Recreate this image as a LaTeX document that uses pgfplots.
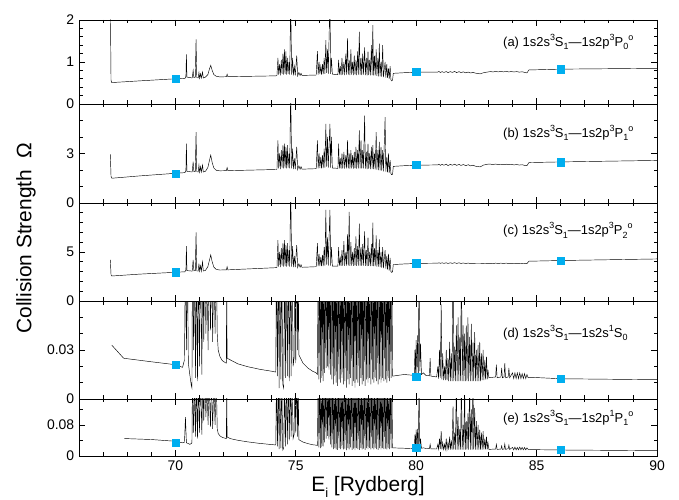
\documentclass[border=0pt]{standalone}
\usepackage{fontspec}
\setmainfont{Liberation Sans}
\usepackage{pgfplots}
\usepackage{pgfplotstable}
\pgfplotsset{compat=1.18}
\definecolor{datacyan}{HTML}{00AEEF}

% panels (a)-(c): same resonance positions, one column per transition
\pgfplotstableread{
x a b c
67.30 2.50 2.95 4.20
67.33 0.56 1.62 2.68
67.36 0.51 1.50 2.55
68.50 0.55 1.64 2.74
70.00 0.60 1.80 2.93
70.40 0.61 1.84 2.98
70.44 0.66 1.98 3.20
70.46 1.18 3.60 5.60
70.48 0.64 1.92 3.10
70.70 0.62 1.88 3.05
70.74 0.80 2.50 4.20
70.77 0.63 1.90 3.08
70.83 0.64 1.92 3.10
70.86 1.54 4.30 7.00
70.89 0.63 1.90 3.08
70.95 0.62 1.88 3.05
70.98 0.75 2.30 3.80
71.01 0.61 1.86 3.04
71.05 0.72 2.20 3.60
71.08 0.62 1.88 3.05
71.13 0.76 2.30 4.00
71.16 0.62 1.88 3.06
71.25 0.64 1.92 3.12
71.35 0.70 2.15 3.50
71.42 0.84 2.60 4.20
71.47 0.92 2.90 4.70
71.53 0.80 2.45 4.00
71.60 0.70 2.12 3.45
71.70 0.66 1.98 3.22
71.85 0.645 1.95 3.16
72.12 0.65 1.96 3.18
72.15 0.71 2.15 3.50
72.18 0.65 1.96 3.18
74.18 0.67 2.03 3.40
74.22 0.68 2.05 3.42
74.26 1.10 3.80 6.20
74.29 0.70 2.10 3.50
74.33 0.95 3.00 5.00
74.36 0.68 2.05 3.45
74.40 1.05 3.20 5.40
74.43 0.72 2.15 3.60
74.47 1.20 3.50 5.90
74.50 0.70 2.10 3.50
74.53 1.30 3.60 6.20
74.56 0.72 2.15 3.55
74.59 1.25 3.40 5.70
74.62 0.70 2.10 3.50
74.65 1.10 3.50 5.90
74.68 0.72 2.15 3.60
74.72 1.00 3.00 5.20
74.75 0.70 2.10 3.50
74.79 2.50 7.00 12.0
74.83 0.70 2.10 3.50
74.87 1.10 3.30 5.60
74.90 0.68 2.05 3.45
74.94 0.90 2.70 4.60
74.98 0.68 2.05 3.45
75.04 1.15 3.40 5.70
75.08 0.67 2.03 3.42
75.13 0.75 2.25 3.80
75.18 0.68 2.05 3.44
75.22 0.73 2.20 3.70
75.26 0.68 2.05 3.44
75.85 0.69 2.08 3.50
75.90 1.26 3.80 5.90
75.93 0.70 2.10 3.55
75.97 1.00 3.00 4.80
76.00 0.71 2.12 3.55
76.04 0.90 2.80 4.50
76.07 0.70 2.10 3.55
76.11 0.95 2.90 4.70
76.14 0.71 2.12 3.56
76.18 1.10 3.30 5.50
76.21 0.72 2.15 3.60
76.25 1.52 4.80 9.30
76.28 0.74 2.20 3.70
76.32 1.30 4.00 6.50
76.35 0.72 2.15 3.60
76.42 2.50 4.80 9.30
76.45 0.72 2.15 3.60
76.48 1.10 4.00 5.50
76.52 0.71 2.12 3.56
76.75 0.70 2.10 3.56
76.78 1.05 3.60 5.50
76.81 0.70 2.10 3.60
76.85 0.90 2.70 4.40
76.88 0.69 2.08 3.58
76.92 1.10 3.00 5.20
76.95 0.70 2.10 3.60
77.00 1.00 3.10 6.10
77.03 0.69 2.08 3.58
77.08 1.20 2.90 5.00
77.11 0.70 2.10 3.60
77.15 1.56 3.80 6.80
77.18 0.70 2.10 3.60
77.22 1.05 3.00 9.10
77.25 0.69 2.08 3.58
77.29 1.30 3.20 6.00
77.32 0.70 2.10 3.60
77.36 1.00 2.90 5.00
77.39 0.69 2.08 3.58
77.43 1.15 3.10 5.40
77.46 0.70 2.10 3.60
77.50 1.05 3.40 6.60
77.53 0.69 2.08 3.58
77.57 1.25 3.20 5.60
77.60 0.70 2.10 3.60
77.64 1.72 4.40 7.90
77.67 0.70 2.10 3.60
77.71 1.10 3.80 5.50
77.74 0.69 2.08 3.58
77.78 1.20 3.20 5.80
77.81 0.70 2.10 3.60
77.86 1.35 5.30 7.10
77.89 0.69 2.08 3.58
77.93 1.10 3.10 5.20
77.96 0.68 2.06 3.56
78.00 1.25 3.60 6.50
78.03 0.69 2.08 3.58
78.07 1.05 3.00 5.00
78.10 0.68 2.06 3.56
78.14 1.40 3.40 5.80
78.17 0.69 2.08 3.58
78.20 1.88 3.50 8.00
78.23 0.68 2.06 3.56
78.27 1.15 3.00 5.40
78.30 0.68 2.04 3.55
78.34 1.30 4.30 6.70
78.37 0.67 2.02 3.52
78.41 1.10 3.20 5.20
78.44 0.66 2.00 3.50
78.47 1.44 3.70 6.30
78.50 0.66 1.98 3.45
78.54 1.00 3.40 5.00
78.57 0.65 1.96 3.40
78.61 1.40 3.20 5.50
78.64 0.64 1.92 3.35
78.71 1.00 5.20 5.20
78.74 0.63 1.90 3.30
78.78 0.95 2.80 4.60
78.81 0.62 1.86 3.20
78.85 0.85 3.00 4.80
78.88 0.60 1.82 3.10
78.92 0.90 2.60 4.40
78.95 0.58 1.78 3.00
78.98 0.55 1.72 2.92
79.02 0.57 1.74 2.98
79.05 0.73 2.22 3.72
79.50 0.745 2.26 3.78
80.00 0.755 2.29 3.83
80.50 0.76 2.30 3.85
80.90 0.76 2.31 3.86
80.95 0.775 2.35 3.90
81.00 0.75 2.28 3.84
81.08 0.77 2.34 3.90
81.15 0.752 2.29 3.84
81.25 0.772 2.35 3.90
81.32 0.748 2.27 3.83
81.42 0.77 2.34 3.90
81.50 0.752 2.29 3.84
81.60 0.775 2.35 3.91
81.68 0.748 2.28 3.83
81.78 0.77 2.34 3.90
81.86 0.748 2.28 3.83
81.96 0.765 2.33 3.88
82.06 0.742 2.26 3.82
82.16 0.76 2.32 3.87
82.26 0.738 2.25 3.81
82.36 0.752 2.29 3.85
82.46 0.735 2.23 3.80
82.56 0.725 2.21 3.80
82.66 0.718 2.19 3.80
82.80 0.745 2.30 3.82
83.00 0.765 2.36 3.84
83.10 0.772 2.35 3.85
83.18 0.762 2.33 3.82
83.30 0.775 2.36 3.86
83.40 0.765 2.33 3.83
83.52 0.775 2.35 3.86
83.62 0.765 2.32 3.83
83.74 0.775 2.35 3.86
83.84 0.765 2.32 3.83
83.96 0.772 2.34 3.85
84.06 0.762 2.31 3.82
84.18 0.772 2.33 3.85
84.28 0.758 2.30 3.82
84.40 0.768 2.32 3.84
84.50 0.752 2.28 3.82
84.60 0.74 2.26 3.82
84.68 0.81 2.45 4.06
86.00 0.83 2.49 4.13
90.00 0.85 2.58 4.29
}\tripdata

% panels (d) and (e)
\pgfplotstableread{
x d e
67.36 0.0330 nan
67.85 0.0250 nan
67.88 0.0249 0.0450
69.00 0.0228 0.0425
70.00 0.0210 0.0380
70.30 0.0194 0.0340
70.38 0.0240 0.0355
70.42 0.0900 0.1000
70.46 0.0300 0.0340
70.50 0.0900 0.0330
70.54 0.0220 0.0320
70.60 0.0150 0.0300
70.66 0.0085 0.0320
70.69 0.0067 0.0340
70.71 0.0900 0.2000
70.76 0.0300 0.0600
70.80 0.0900 0.2000
70.84 0.0130 0.0500
70.88 0.0900 0.2000
70.92 0.0110 0.0450
70.96 0.0900 0.2000
71.00 0.0200 0.0600
71.05 0.0900 0.2000
71.10 0.0150 0.0550
71.14 0.0900 0.2000
71.18 0.0350 0.0900
71.22 0.0900 0.2000
71.27 0.0400 0.1000
71.31 0.0900 0.2000
71.36 0.0300 0.0800
71.40 0.0900 0.2000
71.46 0.0420 0.0750
71.50 0.0900 0.2000
71.55 0.0350 0.0700
71.60 0.0900 0.2000
71.65 0.0400 0.0800
71.70 0.0900 0.2000
71.74 0.0400 0.0700
71.78 0.0300 0.0580
71.85 0.0260 0.0520
71.95 0.0235 0.0480
72.08 0.0222 0.0455
72.12 0.0220 0.0450
72.13 0.0900 0.2000
72.15 0.0250 0.0490
72.30 0.0238 0.0445
72.60 0.0215 0.0405
73.00 0.0198 0.0365
73.50 0.0182 0.0325
74.00 0.0170 0.0295
74.17 0.0165 0.0285
74.20 0.0900 0.2000
74.24 0.0140 0.0250
74.28 0.0900 0.2000
74.31 0.0067 0.0180
74.34 0.0900 0.2000
74.38 0.0120 0.0200
74.42 0.0900 0.2000
74.46 0.0090 0.0150
74.50 0.0067 0.0200
74.53 0.0900 0.2000
74.57 0.0130 0.0250
74.61 0.0900 0.2000
74.65 0.0140 0.0300
74.69 0.0900 0.2000
74.73 0.0110 0.0400
74.77 0.0900 0.2000
74.81 0.0140 0.0500
74.85 0.0900 0.2000
74.89 0.0200 0.0450
74.93 0.0250 0.0550
74.96 0.0900 0.2000
75.00 0.0220 0.0600
75.04 0.0900 0.2000
75.08 0.0300 0.0500
75.10 0.0900 0.2000
75.13 0.0270 0.0420
75.30 0.0220 0.0360
75.50 0.0190 0.0320
75.70 0.0170 0.0290
75.85 0.0160 0.0280
75.90 0.0150 0.0270
75.93 0.0900 0.2000
75.96 0.0120 0.0220
75.99 0.0900 0.2000
76.02 0.0100 0.0200
76.05 0.0900 0.2000
76.08 0.0130 0.0230
76.11 0.0900 0.2000
76.14 0.0110 0.0250
76.17 0.0900 0.2000
76.20 0.0160 0.0350
76.23 0.0900 0.2000
76.26 0.0190 0.0450
76.29 0.0900 0.2000
76.32 0.0200 0.0520
76.35 0.0900 0.2000
76.38 0.0180 0.0420
76.41 0.0900 0.2000
76.44 0.0150 0.0300
76.47 0.0900 0.2000
76.50 0.0120 0.0220
76.53 0.0900 0.2000
76.56 0.0090 0.0180
76.59 0.0900 0.2000
76.62 0.0140 0.0200
76.65 0.0900 0.2000
76.68 0.0100 0.0170
76.71 0.0900 0.2000
76.74 0.0080 0.0160
76.77 0.0900 0.2000
76.80 0.0120 0.0200
76.83 0.0900 0.2000
76.86 0.0100 0.0180
76.89 0.0900 0.2000
76.92 0.0130 0.0210
76.95 0.0900 0.2000
76.98 0.0090 0.0170
77.01 0.0900 0.2000
77.04 0.0110 0.0190
77.07 0.0900 0.2000
77.10 0.0070 0.0150
77.13 0.0900 0.2000
77.16 0.0120 0.0200
77.19 0.0900 0.2000
77.22 0.0090 0.0170
77.25 0.0900 0.2000
77.28 0.0130 0.0220
77.31 0.0900 0.2000
77.34 0.0080 0.0160
77.37 0.0900 0.2000
77.40 0.0110 0.0190
77.43 0.0900 0.2000
77.46 0.0070 0.0150
77.49 0.0900 0.2000
77.52 0.0120 0.0200
77.55 0.0900 0.2000
77.58 0.0100 0.0180
77.61 0.0900 0.2000
77.64 0.0080 0.0160
77.67 0.0900 0.2000
77.70 0.0130 0.0210
77.73 0.0900 0.2000
77.76 0.0090 0.0170
77.79 0.0900 0.2000
77.82 0.0110 0.0190
77.85 0.0900 0.2000
77.88 0.0080 0.0160
77.91 0.0900 0.2000
77.94 0.0120 0.0200
77.97 0.0900 0.2000
78.00 0.0100 0.0180
78.03 0.0900 0.2000
78.06 0.0130 0.0210
78.09 0.0900 0.2000
78.12 0.0090 0.0170
78.15 0.0900 0.2000
78.18 0.0120 0.0200
78.21 0.0900 0.2000
78.24 0.0100 0.0170
78.27 0.0900 0.2000
78.30 0.0130 0.0210
78.33 0.0900 0.2000
78.36 0.0110 0.0180
78.39 0.0900 0.2000
78.42 0.0090 0.0160
78.45 0.0900 0.2000
78.48 0.0120 0.0200
78.51 0.0900 0.2000
78.54 0.0100 0.0170
78.57 0.0900 0.2000
78.60 0.0130 0.0200
78.63 0.0900 0.2000
78.66 0.0110 0.0180
78.69 0.0900 0.2000
78.72 0.0120 0.0190
78.75 0.0900 0.2000
78.78 0.0100 0.0170
78.81 0.0900 0.2000
78.84 0.0130 0.0200
78.87 0.0900 0.2000
78.90 0.0110 0.0180
78.93 0.0900 0.2000
78.96 0.0130 0.0200
78.99 0.0900 0.2000
79.02 0.0140 0.0210
79.50 0.0150 0.0200
79.90 0.0145 0.0190
79.92 0.0145 0.0190
79.95 0.0300 0.0550
79.97 0.0160 0.0220
80.00 0.0360 0.0680
80.03 0.0150 0.0210
80.06 0.0390 0.0700
80.09 0.0160 0.0220
80.12 0.0900 0.2000
80.15 0.0170 0.0230
80.18 0.0340 0.0450
80.22 0.0150 0.0200
80.30 0.0160 0.0210
80.40 0.0145 0.0195
80.55 0.0142 0.0190
80.58 0.0250 0.0300
80.61 0.0140 0.0185
80.85 0.0135 0.0180
80.90 0.0200 0.0300
80.93 0.0125 0.0175
80.97 0.0300 0.0450
81.00 0.0130 0.0180
81.04 0.0580 0.0640
81.07 0.0120 0.0170
81.10 0.0280 0.0350
81.14 0.0115 0.0170
81.18 0.0200 0.0300
81.21 0.0115 0.0170
81.25 0.0300 0.0450
81.28 0.0115 0.0170
81.32 0.0250 0.0350
81.35 0.0110 0.0165
81.39 0.0350 0.0500
81.42 0.0110 0.0165
81.46 0.0280 0.0400
81.49 0.0110 0.0165
81.53 0.0900 0.1280
81.56 0.0110 0.0165
81.60 0.0320 0.0600
81.63 0.0110 0.0165
81.67 0.0450 0.2000
81.70 0.0110 0.0165
81.74 0.0500 0.1000
81.77 0.0110 0.0165
81.81 0.0380 0.0700
81.84 0.0110 0.0165
81.88 0.0900 0.2000
81.91 0.0110 0.0165
81.95 0.0450 0.0800
81.98 0.0110 0.0165
82.01 0.0400 0.2000
82.04 0.0110 0.0165
82.08 0.0450 0.0900
82.11 0.0110 0.0165
82.15 0.0500 0.1100
82.18 0.0110 0.0165
82.22 0.0380 0.2000
82.25 0.0110 0.0165
82.29 0.0460 0.1200
82.32 0.0110 0.0165
82.36 0.0350 0.2000
82.39 0.0110 0.0165
82.43 0.0410 0.1240
82.46 0.0110 0.0165
82.50 0.0300 0.0900
82.53 0.0110 0.0165
82.57 0.0330 0.0800
82.60 0.0110 0.0165
82.64 0.0350 0.0680
82.67 0.0110 0.0165
82.71 0.0280 0.0600
82.74 0.0115 0.0165
82.78 0.0300 0.0640
82.81 0.0115 0.0170
82.85 0.0240 0.0450
82.88 0.0120 0.0170
82.92 0.0260 0.0500
82.95 0.0120 0.0170
82.98 0.0180 0.0350
83.02 0.0130 0.0170
83.30 0.0135 0.0180
83.33 0.0210 0.0300
83.36 0.0130 0.0170
83.52 0.0135 0.0180
83.55 0.0190 0.0260
83.58 0.0130 0.0170
83.65 0.0135 0.0180
83.68 0.0220 0.0310
83.71 0.0130 0.0170
83.82 0.0135 0.0190
83.85 0.0190 0.0280
83.88 0.0130 0.0170
84.00 0.0160 0.0220
84.05 0.0125 0.0160
84.10 0.0160 0.0230
84.15 0.0125 0.0160
84.20 0.0160 0.0220
84.25 0.0125 0.0160
84.30 0.0160 0.0230
84.35 0.0125 0.0160
84.40 0.0155 0.0220
84.45 0.0125 0.0160
84.50 0.0155 0.0220
84.55 0.0125 0.0160
84.60 0.0150 0.0210
84.65 0.0130 0.0170
84.75 0.0133 0.0165
86.00 0.0124 0.0155
90.00 0.0118 0.0137
}\duodata

\newcommand{\supx}[1]{\raisebox{0.45em}{\fontsize{9}{9}\selectfont #1}}
\newcommand{\subx}[1]{\raisebox{-0.3em}{\fontsize{9}{9}\selectfont #1}}
\newcommand{\tagfont}{\fontsize{13}{13}\selectfont}

\begin{document}
\fontsize{14}{16}\selectfont
\begin{tikzpicture}
\path[use as bounding box] (0bp,0bp) rectangle (679bp,500bp);

% (a)
\begin{axis}[scale only axis, width=578bp, height=84bp, anchor=south west, at={(79bp,396bp)},
  xmin=66, xmax=90, ymin=0, ymax=2,
  xtick={70,75,80,85,90}, minor xtick={67,...,89}, xticklabels={},
  ytick={0,1,2}, minor ytick={0.2,0.4,0.6,0.8,1.2,1.4,1.6,1.8},
  tick align=inside, major tick length=6bp, minor tick length=3.5bp,
  /pgf/number format/assume math mode=true,
  tick style={black, line width=0.8pt}]
\addplot[black, line width=0.45pt, no markers] table[x=x, y=a] {\tripdata};
\addplot[only marks, mark=square*, mark size=3.6pt, color=datacyan] coordinates {(70,0.60) (80,0.76) (86,0.83)};
\node[anchor=west, inner sep=0pt] at (rel axis cs:0.7336,0.738) {\tagfont (a) 1s2s\supx{3}S\subx{1}—1s2p\supx{3}P\subx{0}\supx{o}};
\end{axis}

% (b)
\begin{axis}[scale only axis, width=578bp, height=99bp, anchor=south west, at={(79bp,297bp)},
  xmin=66, xmax=90, ymin=0, ymax=6,
  xtick={70,75,80,85,90}, minor xtick={67,...,89}, xticklabels={},
  ytick={0,3}, minor ytick={1,2,4,5},
  tick align=inside, major tick length=6bp, minor tick length=3.5bp,
  /pgf/number format/assume math mode=true,
  tick style={black, line width=0.8pt}]
\addplot[black, line width=0.45pt, no markers] table[x=x, y=b] {\tripdata};
\addplot[only marks, mark=square*, mark size=3.6pt, color=datacyan] coordinates {(70,1.80) (80,2.30) (86,2.47)};
\node[anchor=west, inner sep=0pt] at (rel axis cs:0.7336,0.707) {\tagfont (b) 1s2s\supx{3}S\subx{1}—1s2p\supx{3}P\subx{1}\supx{o}};
\end{axis}

% (c)
\begin{axis}[scale only axis, width=578bp, height=98bp, anchor=south west, at={(79bp,199bp)},
  xmin=66, xmax=90, ymin=0, ymax=10,
  xtick={70,75,80,85,90}, minor xtick={67,...,89}, xticklabels={},
  ytick={0,5}, minor ytick={1,2,3,4,6,7,8,9},
  tick align=inside, major tick length=6bp, minor tick length=3.5bp,
  /pgf/number format/assume math mode=true,
  tick style={black, line width=0.8pt}]
\addplot[black, line width=0.45pt, no markers] table[x=x, y=c] {\tripdata};
\addplot[only marks, mark=square*, mark size=3.6pt, color=datacyan] coordinates {(70,2.93) (80,3.85) (86,4.15)};
\node[anchor=west, inner sep=0pt] at (rel axis cs:0.7336,0.724) {\tagfont (c) 1s2s\supx{3}S\subx{1}—1s2p\supx{3}P\subx{2}\supx{o}};
\end{axis}

% (d)
\begin{axis}[scale only axis, width=578bp, height=98bp, anchor=south west, at={(79bp,101bp)},
  xmin=66, xmax=90, ymin=0, ymax=0.06,
  xtick={70,75,80,85,90}, minor xtick={67,...,89}, xticklabels={},
  ytick={0,0.03}, yticklabels={0,0.03}, scaled y ticks=false,
  minor ytick={0.01,0.02,0.04,0.05},
  tick align=inside, major tick length=6bp, minor tick length=3.5bp,
  /pgf/number format/assume math mode=true,
  tick style={black, line width=0.8pt}]
\addplot[black, line width=0.45pt, no markers] table[x=x, y=d] {\duodata};
\addplot[only marks, mark=square*, mark size=3.6pt, color=datacyan] coordinates {(70,0.0208) (80,0.0135) (86,0.0122)};
\node[anchor=west, inner sep=0pt] at (rel axis cs:0.7336,0.673) {\tagfont (d) 1s2s\supx{3}S\subx{1}—1s2s\supx{1}S\subx{0}};
\end{axis}

% (e)
\begin{axis}[scale only axis, width=578bp, height=57bp, anchor=south west, at={(79bp,44bp)},
  xmin=66, xmax=90, ymin=0, ymax=0.147,
  xtick={70,75,80,85,90}, minor xtick={67,...,89}, xticklabels={70,75,80,85,90},
  ytick={0,0.08}, yticklabels={0,0.08}, scaled y ticks=false,
  minor ytick={0.04,0.12},
  tick align=inside, major tick length=6bp, minor tick length=3.5bp,
  /pgf/number format/assume math mode=true,
  tick style={black, line width=0.8pt}]
\addplot[black, line width=0.45pt, no markers] table[x=x, y=e] {\duodata};
\addplot[only marks, mark=square*, mark size=3.6pt, color=datacyan] coordinates {(70,0.0335) (80,0.0206) (86,0.0155)};
\node[anchor=west, inner sep=0pt] at (rel axis cs:0.7336,0.667) {\tagfont (e) 1s2s\supx{3}S\subx{1}—1s2p\supx{1}P\subx{1}\supx{o}};
\end{axis}

\node[rotate=90, font=\fontsize{21}{21}\selectfont] at (26bp,262bp) {Collision Strength\ \ Ω};
\node[font=\fontsize{21}{21}\selectfont] at (368bp,13bp) {E\raisebox{-0.3em}{\fontsize{13}{13}\selectfont i} [Rydberg]};
\end{tikzpicture}
\end{document}
